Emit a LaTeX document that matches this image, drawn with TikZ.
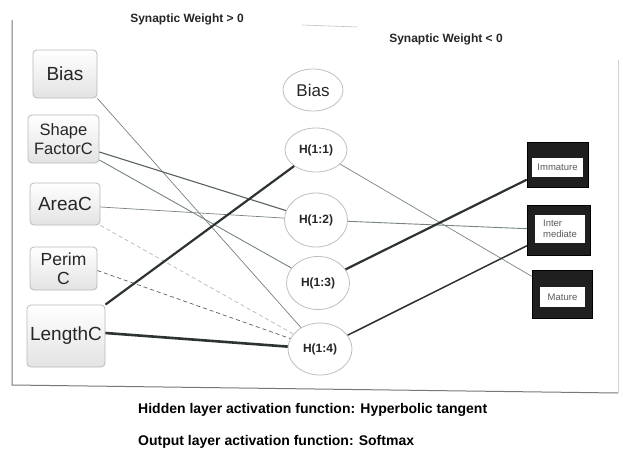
\documentclass[tikz,border=0pt]{standalone}
\usepackage{fontspec}
\setmainfont{Liberation Sans}
\usetikzlibrary{shapes.geometric,calc}
\definecolor{lnthin}{RGB}{120,132,128}
\definecolor{lnmid}{RGB}{85,98,94}
\definecolor{lndark}{RGB}{45,50,50}
\definecolor{framec}{RGB}{120,120,120}
\begin{document}
\begin{tikzpicture}[x=1pt,y=-1pt,
  inbox/.style={draw=gray!55, line width=0.8pt, rounded corners=4pt, top color=white, bottom color=gray!22, align=center, inner sep=1pt, text=black!85},
  hid/.style={ellipse, draw=gray!50, line width=0.8pt, fill=white, inner sep=0pt, text=black!85, font=\fontsize{12}{14}\bfseries\selectfont},
  outbox/.style={fill=black!88, draw=black, inner sep=0pt},
  outin/.style={fill=white, inner sep=1pt, align=left, text=black!65, font=\fontsize{9.5}{10.5}\selectfont},
  thinw/.style={draw=lnthin, line width=0.7pt},
  midw/.style={draw=lnmid, line width=1.1pt},
  darkw/.style={draw=lndark, line width=2.2pt},
  dashw/.style={draw=lnthin, line width=0.7pt, dash pattern=on 4pt off 3pt},
  legtxt/.style={font=\fontsize{12}{14}\bfseries\selectfont, text=black!85, inner sep=0pt},
  captxt/.style={font=\fontsize{14}{16}\bfseries\selectfont, text=black, inner sep=0pt, anchor=west}
]
\useasboundingbox (0,0) rectangle (623,460);
\fill[white] (0,0) rectangle (623,460);

% frame
\coordinate (f1) at (12,20);
\coordinate (f2) at (12,385);
\coordinate (f3) at (618,393);
\coordinate (f4) at (618,60);
\draw[framec, line width=1pt] (f1) -- (f2) -- (f3);
\draw[gray!35, line width=0.8pt] (f3) -- (f4);

% legend
\node[legtxt] (leg1) at (187,19) {Synaptic Weight > 0};
\coordinate (lg1) at (302,25);
\coordinate (lg2) at (357,27);
\draw[gray!50, line width=0.6pt] (lg1) -- (lg2);
\node[legtxt] (leg2) at (446,39) {Synaptic Weight < 0};

% input nodes
\node[inbox, minimum width=64pt, minimum height=48pt, font=\fontsize{19}{21}\selectfont] (ibias) at (65,74) {Bias};
\node[inbox, minimum width=71pt, minimum height=48pt, font=\fontsize{16.5}{18.5}\selectfont] (sf) at (63.5,139) {Shape\\FactorC};
\node[inbox, minimum width=70pt, minimum height=42pt, font=\fontsize{19}{21}\selectfont] (ac) at (65,204) {AreaC};
\node[inbox, minimum width=67pt, minimum height=43pt, font=\fontsize{17.5}{19.5}\selectfont] (pc) at (63.5,268.5) {Perim\\C};
\node[inbox, minimum width=78pt, minimum height=62pt, font=\fontsize{19}{21}\selectfont] (lc) at (66,336) {LengthC};

% hidden nodes
\node[hid, minimum width=60pt, minimum height=42pt, font=\fontsize{17}{19}\selectfont] (hbias) at (313,90) {Bias};
\node[hid, minimum width=62pt, minimum height=44pt] (h1) at (316,150) {H(1:1)};
\node[hid, minimum width=63pt, minimum height=54pt] (h2) at (316,220) {H(1:2)};
\node[hid, minimum width=63pt, minimum height=53pt] (h3) at (318,283) {H(1:3)};
\node[hid, minimum width=64pt, minimum height=52pt] (h4) at (320,349) {H(1:4)};

% output nodes
\node[outbox, minimum width=61pt, minimum height=45pt] (oim) at (557.5,164.5) {};
\node[outin, minimum width=51pt, minimum height=19pt] (oimt) at (557.5,167.5) {Immature};
\node[outbox, minimum width=63pt, minimum height=50pt] (oin) at (558.5,230) {};
\node[outin, minimum width=50pt, minimum height=28pt] (oint) at (560,229) {Inter\\mediate};
\node[outbox, minimum width=60pt, minimum height=48pt] (oma) at (562,294) {};
\node[outin, minimum width=45pt, minimum height=20pt] (omat) at (562.5,297) {Mature};

% input -> hidden
\draw[thinw] (ibias.south east) -- (h4);
\draw[midw] ($(sf.east)+(0,13)$) -- (h2);
\draw[thinw, line width=0.9pt] ($(sf.east)+(0,21)$) -- (h3);
\draw[thinw] ($(ac.east)+(0,3)$) -- (h2);
\draw[dashw, draw=gray!55] (ac.south east) -- (h4);
\draw[dashw, draw=lnmid] ($(pc.east)+(0,2)$) -- (h4);
\draw[darkw] (lc.north east) -- (h1);
\draw[darkw, line width=2.6pt] ($(lc.east)+(0,-3)$) -- (h4);

% hidden -> output
\draw[thinw] (h1) -- (oma);
\draw[thinw, line width=0.9pt] (h2) -- (oin);
\draw[darkw] (h3) -- (oim);
\draw[midw, draw=lndark, line width=1.5pt] (h4) -- (oin);

% captions
\node[captxt] (cap1) at (138,410) {Hidden layer activation function: Hyperbolic tangent};
\node[captxt] (cap2) at (138,442) {Output layer activation function: Softmax};
\end{tikzpicture}
\end{document}
